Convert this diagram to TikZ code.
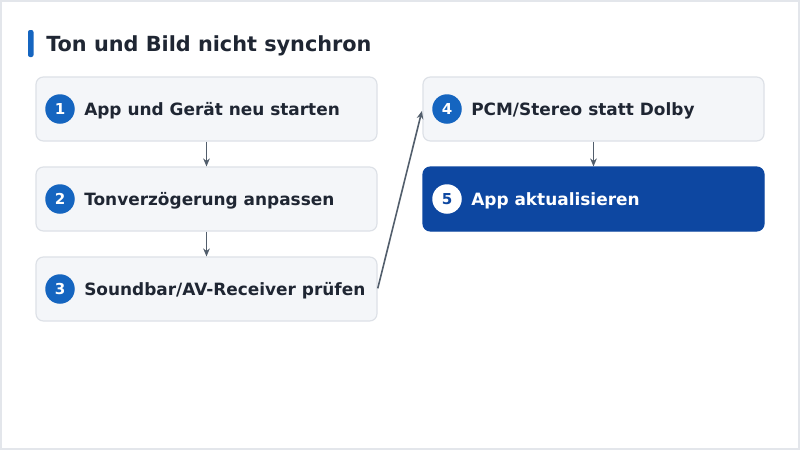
\documentclass[tikz,border=0pt]{standalone}
\usepackage{fontspec}
\setmainfont{DejaVu Sans}
\usetikzlibrary{arrows.meta}
\definecolor{boxfill}{HTML}{F4F6F9}
\definecolor{boxline}{HTML}{DDE1E7}
\definecolor{txt}{HTML}{1F2633}
\definecolor{badge}{HTML}{1565C0}
\definecolor{dark}{HTML}{0D47A1}
\definecolor{arr}{HTML}{525E6C}
\definecolor{frame}{HTML}{E3E6EB}
\tikzset{
  stepbox/.style={draw=boxline, line width=0.9pt, fill=boxfill, rounded corners=5.5pt, minimum width=341*0.75pt, minimum height=64*0.75pt, inner sep=0pt},
  darkbox/.style={draw=dark, line width=0.9pt, fill=dark, rounded corners=5.5pt, minimum width=341*0.75pt, minimum height=64*0.75pt, inner sep=0pt},
  badgec/.style={circle, fill=badge, minimum size=29.5*0.75pt, inner sep=0pt, text=white, font=\bfseries\fontsize{11.3pt}{12pt}\selectfont},
  badgew/.style={circle, fill=white, minimum size=29.5*0.75pt, inner sep=0pt, text=dark, font=\bfseries\fontsize{11.3pt}{12pt}\selectfont},
  lbl/.style={anchor=base west, inner sep=0pt, text=txt, font=\bfseries\fontsize{12.7pt}{15pt}\selectfont},
  lblw/.style={anchor=base west, inner sep=0pt, text=white, font=\bfseries\fontsize{12.7pt}{15pt}\selectfont},
  conn/.style={draw=arr, line width=1.2pt, -{Stealth[length=6pt,width=5pt]}},
}
\begin{document}
\begin{tikzpicture}[x=0.75pt,y=-0.75pt]
\useasboundingbox (0,0) rectangle (800,450);
\draw[frame, line width=1.2pt, fill=white] (1,1) rectangle (799,449);
\fill[badge, rounded corners=1.5pt] (28,30) rectangle (33.5,57);
\node[anchor=base west, inner sep=0pt, text=txt, font=\bfseries\fontsize{15.6pt}{18pt}\selectfont] (title) at (46,51.5) {Ton und Bild nicht synchron};
% boxes
\node[stepbox] (b1) at (206.5,109) {};
\node[stepbox] (b2) at (206.5,199) {};
\node[stepbox] (b3) at (206.5,289) {};
\node[stepbox] (b4) at (593.5,109) {};
\node[darkbox] (b5) at (593.5,199) {};
% badges
\node[badgec] (c1) at (60,109) {1};
\node[badgec] (c2) at (60,199) {2};
\node[badgec] (c3) at (60,289) {3};
\node[badgec] (c4) at (447,109) {4};
\node[badgew] (c5) at (447,199) {5};
% labels
\node[lbl] (t1) at (84,115) {App und Gerät neu starten};
\node[lbl] (t2) at (84,205) {Tonverzögerung anpassen};
\node[lbl] (t3) at (84,295) {Soundbar/AV-Receiver prüfen};
\node[lbl] (t4) at (471,115) {PCM/Stereo statt Dolby};
\node[lblw] (t5) at (471,205) {App aktualisieren};
% connectors
\draw[conn] (b1.south) -- (b2.north);
\draw[conn] (b2.south) -- (b3.north);
\draw[conn] (b4.south) -- (b5.north);
\draw[conn, shorten <=0.5pt, shorten >=1.5pt] (b3.east) -- (b4.west);
\end{tikzpicture}
\end{document}
